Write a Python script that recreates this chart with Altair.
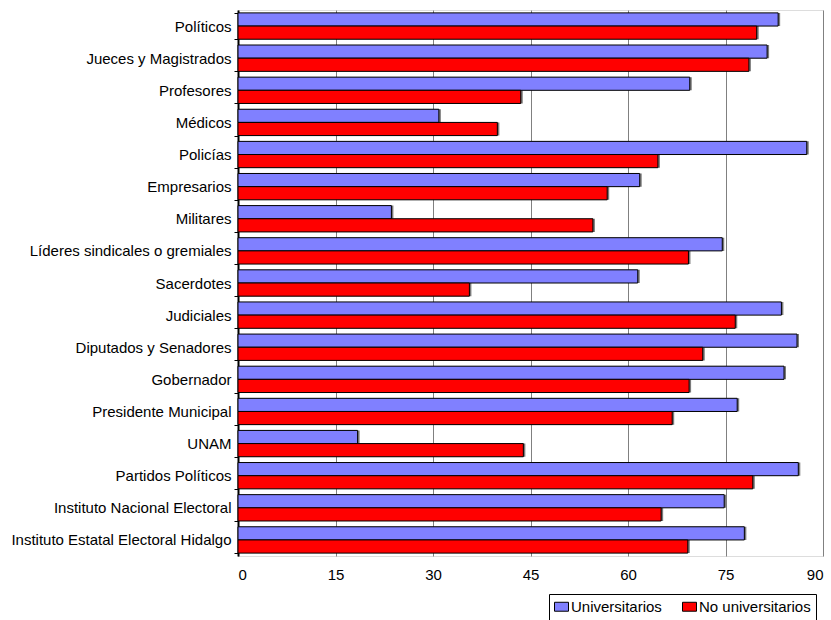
import altair as alt
import pandas as pd

categories = [
    "Políticos", "Jueces y Magistrados", "Profesores\u00a0", "Médicos\u00a0", "Policías",
    "Empresarios\u00a0", "Militares\u00a0", "Líderes sindicales o gremiales", "Sacerdotes\u00a0",
    "Judiciales", "Diputados y Senadores", "Gobernador\u00a0", "Presidente Municipal", "UNAM\u00a0",
    "Partidos Políticos", "Instituto Nacional Electoral", "Instituto Estatal Electoral Hidalgo",
]
universitarios = [83.1, 81.4, 69.5, 30.9, 87.5, 61.8, 23.6, 74.5, 61.5, 83.6, 86.0, 84.0, 76.8, 18.4, 86.2, 74.8, 77.9]
no_universitarios = [79.8, 78.6, 43.5, 39.9, 64.6, 56.8, 54.6, 69.3, 35.6, 76.5, 71.5, 69.4, 66.8, 43.9, 79.2, 65.1, 69.2]
series = ["Universitarios", "No universitarios"]
ticks = [0, 15, 30, 45, 60, 75, 90]

rows = []
for c, u, n in zip(categories, universitarios, no_universitarios):
    rows.append({"cat": c, "serie": series[0], "valor": u})
    rows.append({"cat": c, "serie": series[1], "valor": n})
df = pd.DataFrame(rows)

FONT = "Liberation Sans"
FS = 15

x_enc = alt.X("valor:Q", scale=alt.Scale(domain=[0, 90], nice=False, zero=True),
              axis=alt.Axis(values=ticks, title=None, grid=True, gridColor="#808080",
                            gridWidth=1, ticks=False, domain=False, labelPadding=11,
                            labelFontSize=FS, labelFont=FONT, labelColor="black"))
y_enc = alt.Y("cat:N", sort=categories,
              scale=alt.Scale(paddingInner=0.18, paddingOuter=0.09),
              axis=alt.Axis(title=None, tickBand="extent", tickSize=4, tickColor="black",
                            domainColor="black", domainWidth=2, labelPadding=3,
                            labelFontSize=FS, labelFont=FONT, labelColor="black",
                            labelLimit=300))
yoff = alt.YOffset("serie:N", sort=series, scale=alt.Scale(paddingInner=0, paddingOuter=0))

shadow = alt.Chart(df).mark_bar(color="#7a7a7a", xOffset=2, yOffset=2).encode(
    x=x_enc, y=y_enc, yOffset=yoff
)

bars = alt.Chart(df).mark_bar(stroke="black", strokeWidth=1).encode(
    x=x_enc, y=y_enc, yOffset=yoff,
    color=alt.Color("serie:N", sort=series,
                    scale=alt.Scale(domain=series, range=["#8080FF", "#FF0000"]),
                    legend=alt.Legend(title=None, orient="none", direction="horizontal",
                                      legendX=311, legendY=584,
                                      strokeColor="black", padding=5,
                                      symbolType="M-1,-0.64H1V0.64H-1Z", symbolSize=196,
                                      symbolStrokeColor="black", symbolStrokeWidth=1,
                                      symbolOpacity=1,
                                      labelFontSize=FS, labelFont=FONT, labelColor="black",
                                      labelOffset=2, columnPadding=18)),
)

chart = alt.layer(shadow, bars).properties(
    width=585, height=546,
    autosize=alt.AutoSizeParams(type="none"),
    padding={"left": 238, "top": 10, "right": 8, "bottom": 64},
).configure_view(stroke="#555555", strokeWidth=1).configure(background="white")

chart.save("out.html", embed_options={"renderer": "svg", "actions": False})
